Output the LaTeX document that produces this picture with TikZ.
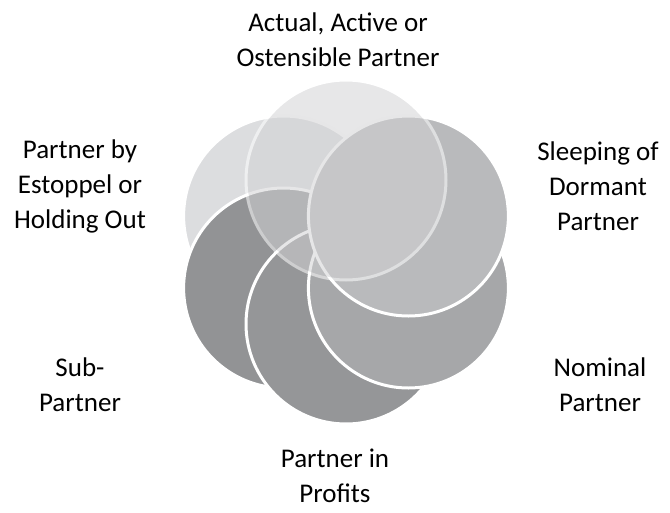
\documentclass[tikz,border=0pt]{standalone}
\usepackage{fontspec}
\setmainfont{Carlito}
\definecolor{estopfill}{HTML}{DCDDDF}
\definecolor{subfill}{HTML}{929395}
\definecolor{profitfill}{HTML}{959698}
\definecolor{nominalfill}{HTML}{A6A7A9}
\definecolor{sleepfill}{HTML}{B9BABC}
\definecolor{activefill}{HTML}{D2D2D4}
\begin{document}
\begin{tikzpicture}[x=1pt,y=-1pt,
  ring/.style={draw=white,line width=3pt},
  lbl/.style={align=center,inner sep=1pt,font=\fontsize{27}{35}\selectfont,text=black}]
\useasboundingbox (0,0) rectangle (670,512);
% circles, back to front
\filldraw [ring,fill=estopfill] (283.6,216) circle [radius=100pt];
\filldraw [ring,fill=subfill] (283.6,288) circle [radius=100pt];
\filldraw [ring,fill=profitfill] (346,324) circle [radius=100pt];
\filldraw [ring,fill=nominalfill] (408.4,288) circle [radius=100pt];
\filldraw [ring,fill=sleepfill] (408.4,216) circle [radius=100pt];
\begin{scope}[transparency group,opacity=0.54]
\filldraw [ring,fill=activefill] (346,180) circle [radius=100pt];
\end{scope}
% labels
\node [lbl] (active) at (338,40) {Actual, Active or\\Ostensible Partner};
\node [lbl] (sleeping) at (598,186) {Sleeping of\\Dormant\\Partner};
\node [lbl] (nominal) at (600,385) {Nominal\\Partner};
\node [lbl] (profits) at (335,476) {Partner in\\Profits};
\node [lbl] (sub) at (80,385) {Sub-\\Partner};
\node [lbl] (estoppel) at (80,186) {Partner by\\Estoppel or\\Holding Out};
\end{tikzpicture}
\end{document}
